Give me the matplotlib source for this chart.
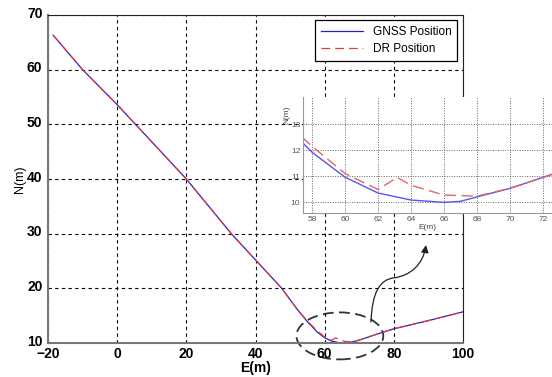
import matplotlib
matplotlib.use("Agg")
import matplotlib.pyplot as plt
import matplotlib.transforms as mtransforms
from matplotlib.patches import Ellipse, FancyArrowPatch
from matplotlib.path import Path

# GNSS track (E, N) in metres
gnss_e = [-18.5, -10, 0, 10, 20, 33, 40, 47.6, 52, 55, 57.45, 58, 60, 62, 64, 66, 67, 68, 70, 72, 75, 80, 90, 100]
gnss_n = [66.3, 60, 53.6, 46.8, 40, 30, 25.2, 20, 16.2, 13.9, 12.27, 11.92, 10.96, 10.35, 10.08, 9.99, 10.03, 10.2, 10.53, 10.95, 11.6, 12.6, 14.1, 15.7]

# dead-reckoning track
dr_e = [-18.5, -10, 0, 10, 20, 33, 40, 47.6, 52, 55, 57.45, 58, 60, 62, 63.17, 64, 66, 68, 69, 70, 72, 75, 80, 90, 100]
dr_n = [66.3, 60, 53.6, 46.8, 40, 30, 25.2, 20, 16.2, 14.0, 12.47, 12.15, 11.1, 10.49, 10.95, 10.65, 10.27, 10.23, 10.38, 10.53, 10.95, 11.6, 12.6, 14.1, 15.7]

main_xticks = [-20, 0, 20, 40, 60, 80, 100]
main_yticks = [10, 20, 30, 40, 50, 60, 70]
inset_xticks = [58, 60, 62, 64, 66, 68, 70, 72]
inset_yticks = [10, 11, 12, 13]

W, H = 552, 377
fig = plt.figure(figsize=(W / 100, H / 100), dpi=100)
plt.rcParams['font.family'] = ['Liberation Sans', 'DejaVu Sans']

ax = fig.add_axes([48 / W, 1 - 343 / H, (463 - 48) / W, (343 - 15) / H])
ax.plot(gnss_e, gnss_n, color='#2222cc', lw=0.9, label='GNSS Position')
ax.plot(dr_e, dr_n, color='#e03c3c', lw=0.9, ls=(0, (7, 4)), label='DR Position')
ax.set_xlim(-20, 100)
ax.set_ylim(10, 70)
ax.set_xticks(main_xticks)
ax.set_yticks(main_yticks)
ax.tick_params(length=0, labelsize=10)
ax.tick_params(axis='x', pad=3)
ax.tick_params(axis='y', pad=4)
# y labels sit a touch above their gridlines, as in the original
lift = mtransforms.ScaledTranslation(0, 3 / 100, fig.dpi_scale_trans)
for lab in ax.get_yticklabels():
    lab.set_fontweight('bold')
    lab.set_transform(lab.get_transform() + lift)
for lab in ax.get_xticklabels():
    lab.set_fontweight('bold')
ax.grid(True, color='k', ls=(0, (3, 3)), lw=0.8)
for s in ['left', 'bottom']:
    ax.spines[s].set_color('#777777')
    ax.spines[s].set_linewidth(1.5)
for s in ['top', 'right']:
    ax.spines[s].set_color('#222222')
ax.set_xlabel('E(m)', fontsize=10, fontweight='bold', labelpad=0)
ax.set_ylabel('N(m)', fontsize=9, labelpad=1)

leg = ax.legend(loc='upper right', bbox_to_anchor=(0.986, 0.985), borderaxespad=0,
                fontsize=8.5, fancybox=False, edgecolor='black', framealpha=1,
                handlelength=3.6, borderpad=0.5, labelspacing=0.45)
leg.get_frame().set_linewidth(0.9)

# zoom ellipse
ell = Ellipse((64.4, 11.3), 25.1, 8.6, fill=False, ls=(0, (6, 3)), lw=1.3,
              edgecolor='#333333', clip_on=False)
ax.add_patch(ell)

# inset
ins = fig.add_axes([303 / W, 1 - 213 / H, (552 - 303) / W, (213 - 97) / H])
ins.plot(gnss_e, gnss_n, color='#5555ee', lw=1.0)
ins.plot(dr_e, dr_n, color='#e06666', lw=1.0, ls=(0, (8, 4)))
ins.set_xlim(57.45, 72.55)
ins.set_ylim(9.58, 14.05)
ins.set_xticks(inset_xticks)
ins.set_yticks(inset_yticks)
ins.tick_params(length=0, labelsize=6, pad=2, colors='#555555')
ins.grid(True, color='#666666', ls=(0, (1, 1.5)), lw=0.7)
for s in ['top', 'right']:
    ins.spines[s].set_visible(False)
for s in ['left', 'bottom']:
    ins.spines[s].set_color('#999999')
ins.set_xlabel('E(m)', fontsize=6, color='#444444', labelpad=1)
ins.set_ylabel('N(m)', fontsize=6, color='#444444', labelpad=2)
ins.yaxis.set_label_coords(-0.05, 0.85)

# connector arrow, drawn in figure pixels
pts = [(371, 322), (372, 292), (380, 280), (393, 278),
       (410, 276), (423, 265), (426, 245)]
codes = [Path.MOVETO, Path.CURVE4, Path.CURVE4, Path.CURVE4,
         Path.CURVE4, Path.CURVE4, Path.CURVE4]
path = Path([(px / W, 1 - py / H) for px, py in pts], codes)
arr = FancyArrowPatch(path=path, arrowstyle='-|>', mutation_scale=11,
                      color='#222222', lw=0.9, transform=fig.transFigure)
fig.add_artist(arr)

fig.savefig('out.png', dpi=100)
